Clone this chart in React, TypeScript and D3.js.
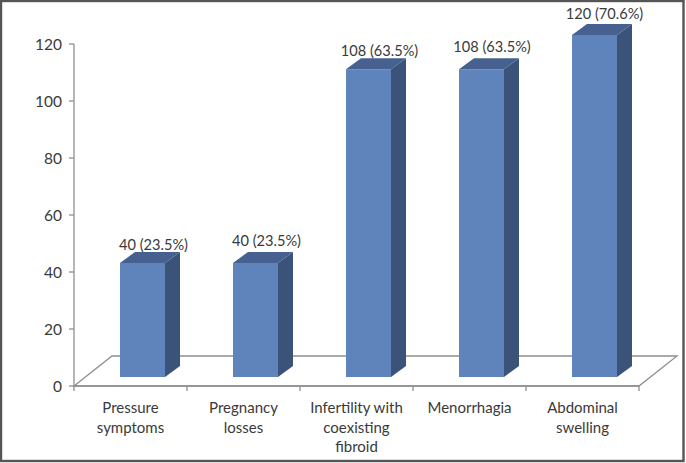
import { scaleBand, scaleLinear } from "d3";

const CATEGORIES = ["Pressure symptoms", "Pregnancy losses", "Infertility with coexisting fibroid", "Menorrhagia", "Abdominal swelling"];
const CATEGORY_LINES = [
  ["Pressure", "symptoms"],
  ["Pregnancy", "losses"],
  ["Infertility with", "coexisting", "fibroid"],
  ["Menorrhagia"],
  ["Abdominal", "swelling"],
];
const VALUES = [40, 40, 108, 108, 120];
const PERCENTS = ["23.5%", "23.5%", "63.5%", "63.5%", "70.6%"];
const Y_TICKS = [0, 20, 40, 60, 80, 100, 120];

const width = 686;
const height = 463;
const FONT = "Lato, 'Open Sans', sans-serif";
const TEXT = "#3a3a3a";
const GRID = "#8f8f8f";

// the 3d box offset, and the hand placed label shifts from the original
const depthX = 15;
const depthY = 11;
const floorDX = 38;
const floorDY = 30;
const barWidth = 45;
const barOffset = 12;
const floorLift = 9;
const labelNudge = [
  { x: 3.5, y: 1 },
  { x: 3.5, y: -3 },
  { x: 3.5, y: 1 },
  { x: 3, y: -3 },
  { x: 2.5, y: -2 },
];

export default function App() {
  const x = scaleBand<string>().domain(CATEGORIES).range([74, 639]);
  const y = scaleLinear().domain([0, 120]).range([386, 44]);
  const base = y(0);
  const tickXs = [...CATEGORIES.map((c) => x(c) as number), 639];

  const floor = [
    [74, base],
    [74 + floorDX, base - floorDY],
    [639 + floorDX, base - floorDY],
    [639, base],
  ]
    .map((p) => p.join(","))
    .join(" ");

  return (
    <div style={{ position: "absolute", left: 0, top: 0 }}>
      <svg width={width} height={height} viewBox={`0 0 ${width} ${height}`} style={{ display: "block", background: "#fff" }}>
        <rect x={1} y={1} width={682.5} height={460} fill="#fff" stroke="#555" strokeWidth={2.4} />

        <polygon points={floor} fill="none" stroke={GRID} strokeWidth={1.3} />
        <line x1={74} x2={74} y1={y(120)} y2={base} stroke={GRID} strokeWidth={1.3} />
        <line x1={74} x2={639} y1={base} y2={base} stroke={GRID} strokeWidth={1.3} />

        {Y_TICKS.map((t) => (
          <g key={t}>
            <line x1={69} x2={74} y1={y(t)} y2={y(t)} stroke={GRID} strokeWidth={1.3} />
            <text x={62} y={y(t) + 5.5} textAnchor="end" fontFamily={FONT} fontSize={15.5} fill={TEXT}>
              {t}
            </text>
          </g>
        ))}

        {tickXs.map((t) => (
          <line key={t} x1={t} x2={t} y1={base} y2={base + 5} stroke={GRID} strokeWidth={1.3} />
        ))}

        {CATEGORIES.map((c, i) => {
          const left = (x(c) as number) + (x.bandwidth() - barWidth) / 2 + barOffset;
          const right = left + barWidth;
          const bottom = base - floorLift;
          const top = y(VALUES[i]) - floorLift;
          const mid = (x(c) as number) + x.bandwidth() / 2;
          return (
            <g key={c}>
              <polygon
                points={`${right},${top} ${right + depthX},${top - depthY} ${right + depthX},${bottom - depthY} ${right},${bottom}`}
                fill="#3b5379"
              />
              <polygon
                points={`${left},${top} ${left + depthX},${top - depthY} ${right + depthX},${top - depthY} ${right},${top}`}
                fill="#46608f"
              />
              <rect x={left} y={top} width={barWidth} height={bottom - top} fill="#5f83bb" />
              <text
                x={left + barWidth / 2 + depthX / 2 + labelNudge[i].x}
                y={top - depthY - 3 + labelNudge[i].y}
                textAnchor="middle"
                fontFamily={FONT}
                fontSize={14.6}
                fill={TEXT}
              >
                {`${VALUES[i]} (${PERCENTS[i]})`}
              </text>
              {CATEGORY_LINES[i].map((line, j) => (
                <text
                  key={line}
                  x={mid}
                  y={413 + j * 19.5}
                  textAnchor="middle"
                  fontFamily={FONT}
                  fontSize={15}
                  fill={TEXT}
                >
                  {line}
                </text>
              ))}
            </g>
          );
        })}
      </svg>
    </div>
  );
}
